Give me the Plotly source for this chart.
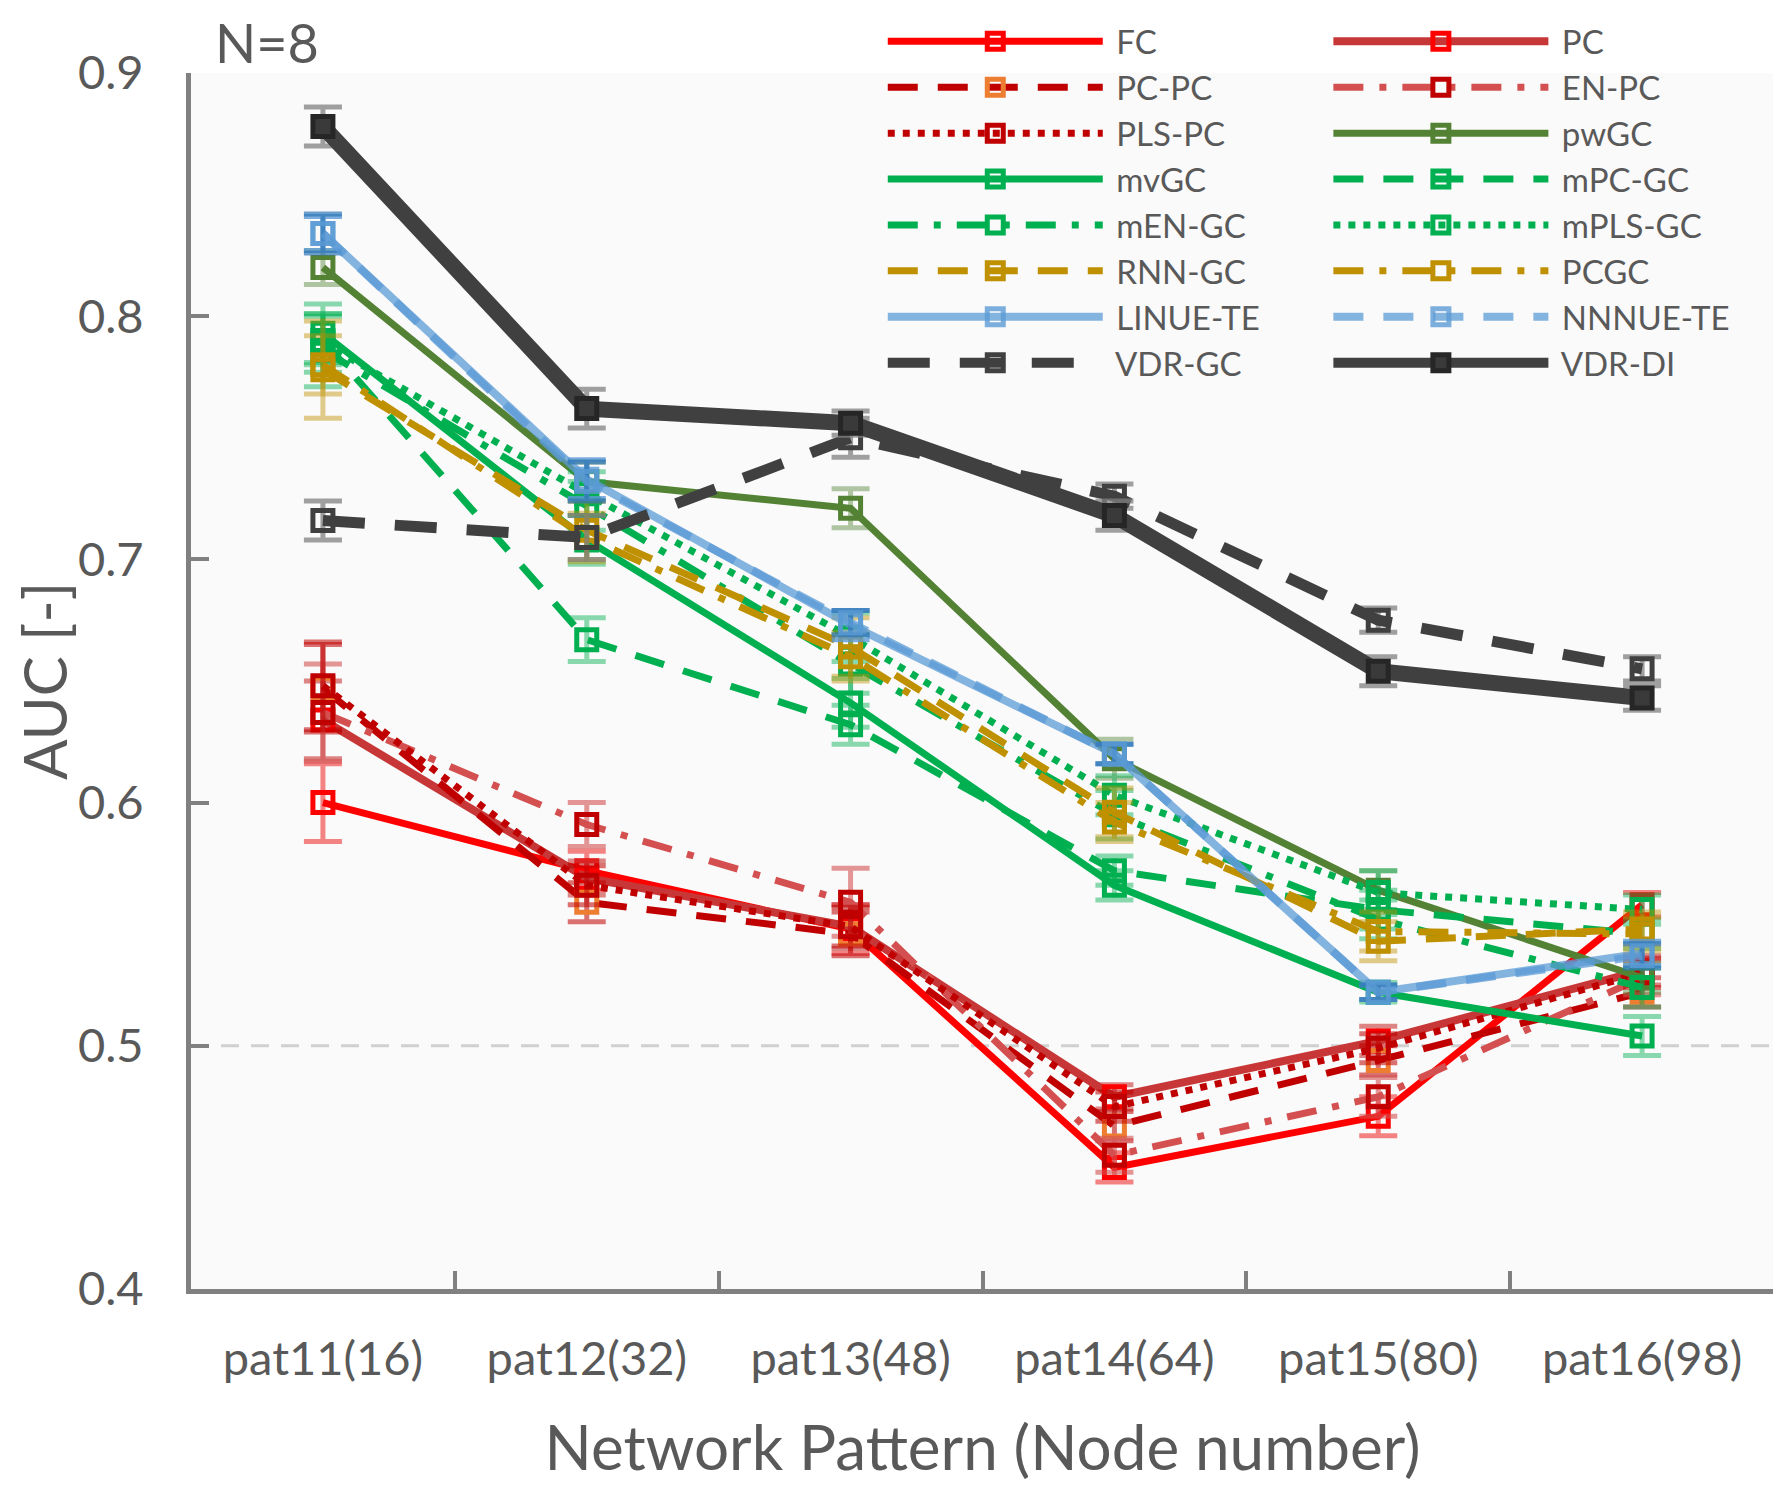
import plotly.graph_objects as go

categories = ["pat11(16)", "pat12(32)", "pat13(48)", "pat14(64)", "pat15(80)", "pat16(98)"]

fc = [0.600, 0.572, 0.548, 0.450, 0.471, 0.558]
fc_err = [0.016, 0.008, 0.010, 0.006, 0.008, 0.005]
pc = [0.634, 0.569, 0.549, 0.479, 0.502, 0.531]
pc_err = [0.016, 0.007, 0.009, 0.005, 0.006, 0.006]
pc_pc = [0.647, 0.559, 0.546, 0.467, 0.494, 0.522]
pc_pc_err = [0.018, 0.008, 0.009, 0.006, 0.006, 0.006]
en_pc = [0.637, 0.591, 0.559, 0.455, 0.479, 0.528]
en_pc_err = [0.020, 0.009, 0.014, 0.007, 0.008, 0.007]
pls_pc = [0.648, 0.566, 0.549, 0.475, 0.499, 0.530]
pls_pc_err = [0.018, 0.008, 0.008, 0.006, 0.006, 0.006]
pwgc = [0.820, 0.732, 0.721, 0.618, 0.564, 0.528]
pwgc_err = [0.007, 0.008, 0.008, 0.008, 0.008, 0.006]
mvgc = [0.793, 0.708, 0.641, 0.566, 0.522, 0.504]
mvgc_err = [0.012, 0.010, 0.010, 0.006, 0.004, 0.008]
mpc_gc = [0.790, 0.667, 0.632, 0.572, 0.556, 0.546]
mpc_gc_err = [0.010, 0.009, 0.008, 0.006, 0.008, 0.006]
men_gc = [0.786, 0.722, 0.657, 0.595, 0.552, 0.524]
men_gc_err = [0.015, 0.010, 0.012, 0.010, 0.008, 0.008]
mpls_gc = [0.789, 0.727, 0.668, 0.603, 0.563, 0.556]
mpls_gc_err = [0.012, 0.009, 0.010, 0.008, 0.009, 0.006]
rnn_gc = [0.778, 0.712, 0.664, 0.596, 0.543, 0.548]
rnn_gc_err = [0.020, 0.012, 0.012, 0.010, 0.008, 0.007]
pcgc = [0.780, 0.709, 0.660, 0.592, 0.547, 0.546]
pcgc_err = [0.012, 0.010, 0.010, 0.008, 0.008, 0.007]
linue_te = [0.834, 0.733, 0.673, 0.620, 0.522, 0.538]
linue_te_err = [0.007, 0.008, 0.006, 0.004, 0.003, 0.005]
nnnue_te = [0.834, 0.732, 0.674, 0.620, 0.522, 0.537]
nnnue_te_err = [0.008, 0.008, 0.005, 0.004, 0.003, 0.005]
vdr_gc = [0.716, 0.709, 0.750, 0.726, 0.675, 0.655]
vdr_gc_err = [0.008, 0.009, 0.008, 0.005, 0.005, 0.005]
vdr_di = [0.878, 0.762, 0.756, 0.718, 0.654, 0.643]
vdr_di_err = [0.008, 0.008, 0.005, 0.006, 0.006, 0.005]

DASH = "30px,20px"
DASHDOT = "30px,16px,7px,16px"
DOT = "7px,8px"

# name, values, errors, line colour, marker colour, error colour, dash, width
series = [
    ("FC", fc, fc_err, "#ff0000", "#ff0000", "rgba(240,80,80,0.7)", "solid", 7),
    ("PC", pc, pc_err, "#c83737", "#ff0000", "rgba(200,55,55,0.6)", "solid", 8),
    ("PC-PC", pc_pc, pc_pc_err, "#c00000", "#ed7d31", "rgba(192,0,0,0.55)", DASH, 7),
    ("EN-PC", en_pc, en_pc_err, "#d45050", "#c00000", "rgba(212,80,80,0.6)", DASHDOT, 7),
    ("PLS-PC", pls_pc, pls_pc_err, "#c00000", "#c00000", "rgba(192,0,0,0.55)", DOT, 7),
    ("pwGC", pwgc, pwgc_err, "#548235", "#548235", "rgba(84,130,53,0.45)", "solid", 7),
    ("mvGC", mvgc, mvgc_err, "#00b050", "#00b050", "rgba(0,176,80,0.45)", "solid", 7),
    ("mPC-GC", mpc_gc, mpc_gc_err, "#00b050", "#00b050", "rgba(0,176,80,0.45)", DASH, 7),
    ("mEN-GC", men_gc, men_gc_err, "#00b050", "#00b050", "rgba(0,176,80,0.45)", DASHDOT, 7),
    ("mPLS-GC", mpls_gc, mpls_gc_err, "#00b050", "#00b050", "rgba(0,176,80,0.45)", DOT, 7),
    ("RNN-GC", rnn_gc, rnn_gc_err, "#bf9000", "#bf9000", "rgba(191,144,0,0.45)", DASH, 7),
    ("PCGC", pcgc, pcgc_err, "#bf9000", "#bf9000", "rgba(191,144,0,0.45)", DASHDOT, 7),
    ("LINUE-TE", linue_te, linue_te_err, "rgba(91,155,213,0.75)", "rgba(91,155,213,0.8)", "rgba(91,155,213,0.8)", "solid", 8),
    ("NNNUE-TE", nnnue_te, nnnue_te_err, "rgba(91,155,213,0.75)", "rgba(91,155,213,0.8)", "rgba(46,117,182,0.7)", DASH, 8),
    ("VDR-GC", vdr_gc, vdr_gc_err, "#404040", "#404040", "rgba(128,128,128,0.75)", "42px,30px", 11),
    ("VDR-DI", vdr_di, vdr_di_err, "#404040", "#262626", "rgba(128,128,128,0.75)", "solid", 16),
]

FONT = "Lato, Noto Sans, sans-serif"
TXT = "#595959"

fig = go.Figure()
for i, (name, vals, errs, lc, mc, ec, dash, lw) in enumerate(series):
    filled = name == "VDR-DI"
    fig.add_trace(go.Scatter(
        x=categories, y=vals, name="\u00a0" + name, mode="lines+markers",
        line=dict(color=lc, width=lw, dash=dash),
        marker=dict(symbol="square" if filled else "square-open", size=20,
                    color="#3a3a3a" if filled else mc,
                    line=dict(color=mc, width=5)),
        error_y=dict(type="data", array=errs, visible=True, color=ec,
                     thickness=5, width=19),
        legend="legend" if i % 2 == 0 else "legend2",
    ))

fig.add_hline(y=0.5, line=dict(color="#d0d0d0", width=3, dash="18px,12px"), layer="below")

fig.add_annotation(text="N=8", x=0.014, xref="paper", y=1.025, yref="paper",
                   xanchor="left", yanchor="middle", showarrow=False,
                   font=dict(family=FONT, size=54, color=TXT))

leg = dict(font=dict(family=FONT, size=33, color=TXT), bgcolor="rgba(0,0,0,0)",
           itemwidth=215, tracegroupgap=0, yanchor="top", y=1.049, xanchor="left")

fig.update_layout(
    width=1781, height=1493,
    margin=dict(l=183, r=15, t=65, b=212, autoexpand=False),
    paper_bgcolor="white", plot_bgcolor="#fafafa",
    font=dict(family=FONT, size=47, color=TXT),
    legend=dict(leg, x=0.437),
    legend2=dict(leg, x=0.7185),
    xaxis=dict(
        range=[-0.5, 5.5], tickson="boundaries", ticks="inside", ticklen=18,
        tickwidth=4, tickcolor="#808080", showline=True, linecolor="#808080",
        linewidth=5, showgrid=False, zeroline=False, ticklabelstandoff=25,
        automargin=False,
        tickfont=dict(family=FONT, size=47, color=TXT),
        title=dict(text="Network Pattern (Node number)", standoff=44,
                   font=dict(family=FONT, size=62, color=TXT)),
    ),
    yaxis=dict(
        range=[0.4, 0.9], dtick=0.1, tickformat=".1f", ticks="inside",
        ticklen=18, tickwidth=4, tickcolor="#808080", showline=True,
        linecolor="#808080", linewidth=5, showgrid=False, zeroline=False,
        automargin=False,
        tickfont=dict(family=FONT, size=47, color=TXT), ticklabelstandoff=33,
        title=dict(text="AUC [-]", standoff=23,
                   font=dict(family=FONT, size=60, color=TXT)),
    ),
)

fig.write_html("out.html")
